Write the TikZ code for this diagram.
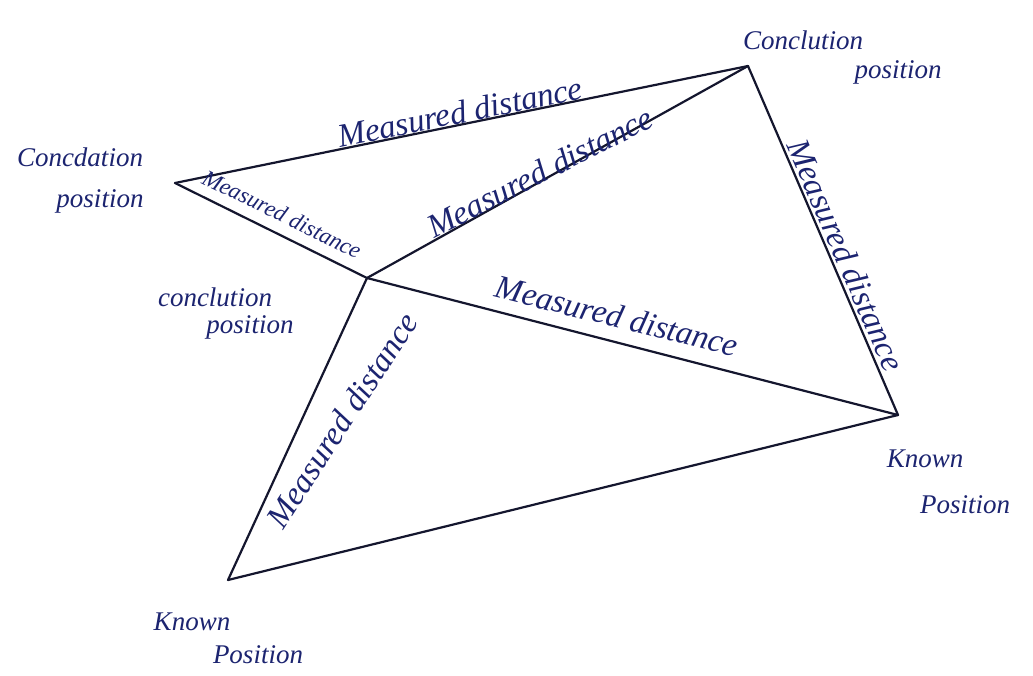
\documentclass[tikz,border=0pt]{standalone}
\usepackage{fontspec}
\setmainfont{Liberation Serif}
\definecolor{ink}{HTML}{1C2470}
\definecolor{pen}{HTML}{14162E}
\begin{document}
\begin{tikzpicture}[x=1pt,y=-1pt,
  edge/.style={draw=pen,line width=2.2pt,line cap=round,line join=round},
  dist/.style={text=ink,font=\itshape\fontsize{33}{33}\selectfont,inner sep=0pt},
  place/.style={text=ink,font=\itshape\fontsize{27}{27}\selectfont,inner sep=0pt}]
\useasboundingbox[fill=white] (0,0) rectangle (1033,675);
\coordinate (A) at (175,183);
\coordinate (B) at (748,66);
\coordinate (C) at (367,278);
\coordinate (D) at (898,415);
\coordinate (E) at (228,580);
\draw[edge] (A) -- (B);
\draw[edge] (A) -- (C);
\draw[edge] (C) -- (B);
\draw[edge] (B) -- (D);
\draw[edge] (C) -- (D);
\draw[edge] (C) -- (E);
\draw[edge] (E) -- (D);
% distance labels
\node[dist,rotate=11.5] (lab) at (460,112) {Measured distance};
\node[dist,rotate=27] (lcb) at (540,172) {Measured distance};
\node[dist,rotate=-14] (lcd) at (617,316) {Measured distance};
\node[dist,rotate=-66.5] (lbd) at (846,255) {Measured distance};
\node[dist,rotate=57] (lce) at (342,420) {Measured distance};
\node[dist,rotate=-26,font=\itshape\fontsize{23}{23}\selectfont] (lac) at (282,214) {Measured distance};
% position labels
\node[place] (t1) at (803,40) {Conclution};
\node[place] (t2) at (898,72) {position};
\node[place] (l1) at (80,157) {Concdation};
\node[place] (l2) at (100,201) {position};
\node[place] (m1) at (215,297) {conclution};
\node[place] (m2) at (250,327) {position};
\node[place] (r1) at (925,459) {Known};
\node[place] (r2) at (965,505) {Position};
\node[place] (b1) at (192,622) {Known};
\node[place] (b2) at (258,655) {Position};
\end{tikzpicture}
\end{document}
